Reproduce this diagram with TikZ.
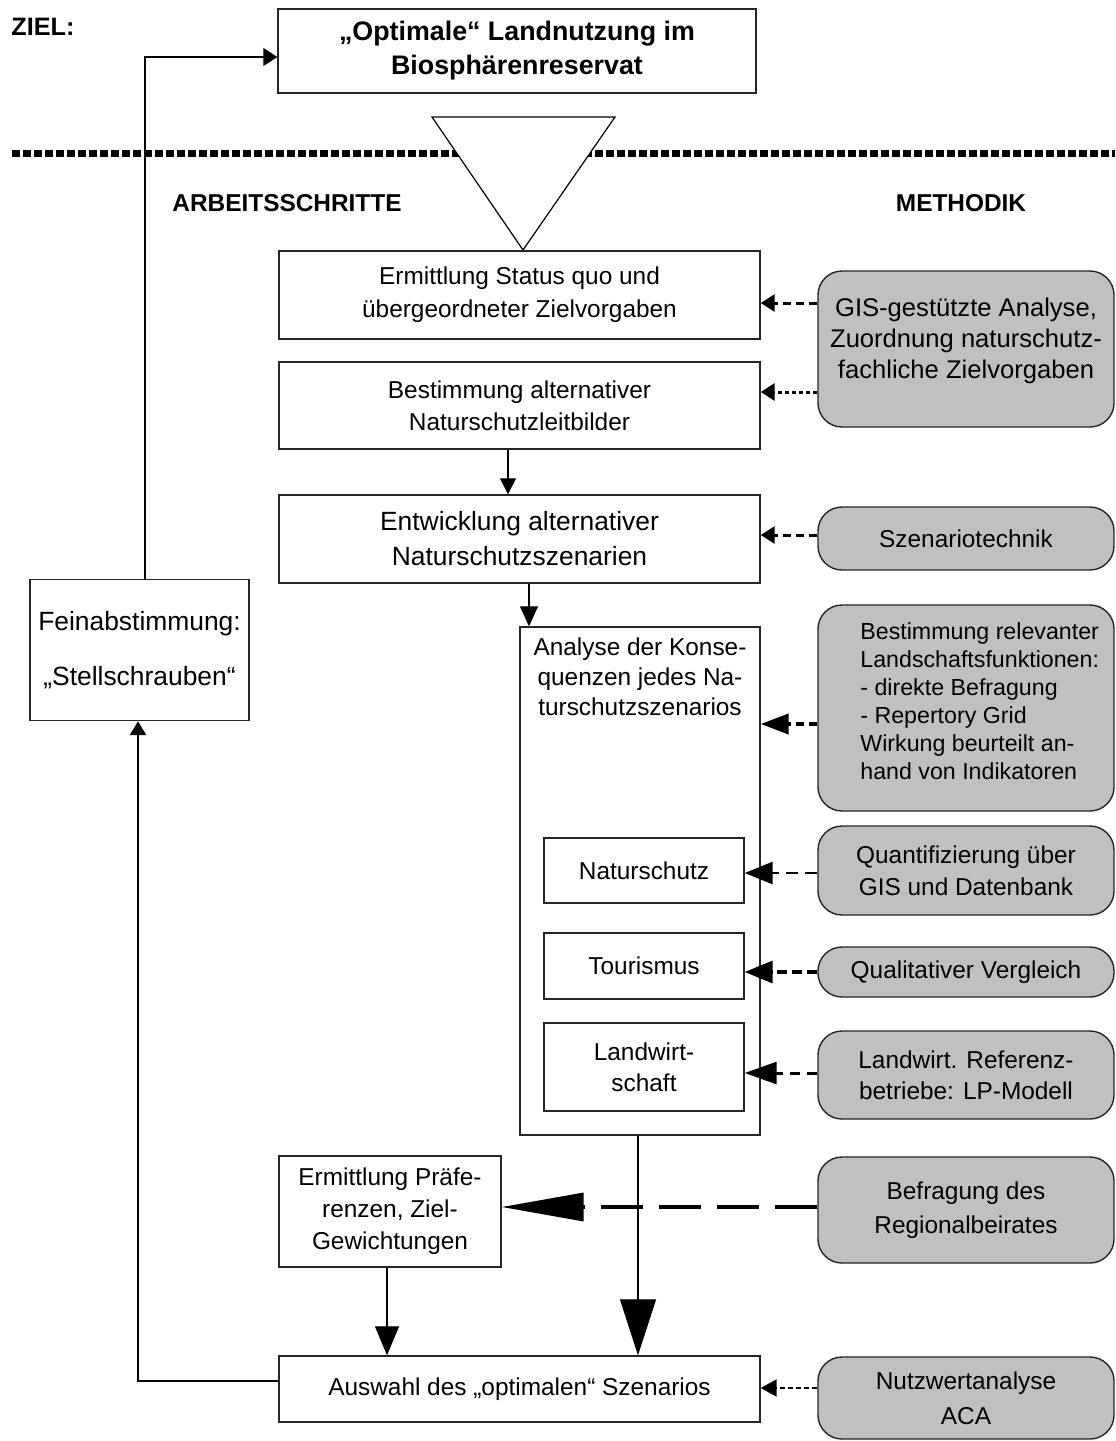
\documentclass[tikz,border=0pt]{standalone}
\usepackage{fontspec}
\setmainfont{Liberation Sans}
\usetikzlibrary{arrows.meta}
\definecolor{boxgray}{RGB}{192,192,192}

\begin{document}
\begin{tikzpicture}[x=0.5pt,y=-0.5pt,
  box/.style={draw=black!85,line width=0.7pt,inner sep=0pt,align=center,
    font=\fontsize{12.2}{16.5}\selectfont},
  graybox/.style={box,fill=boxgray,rounded corners=12pt,minimum width=148pt},
  head/.style={font=\bfseries\fontsize{12.2}{14}\selectfont,inner sep=0pt},
  flow/.style={line width=0.6pt,-{Triangle[length=8pt,width=8pt]}},
  hint/.style={line width=1.3pt,dash pattern=on 4pt off 2.5pt,
    -{Triangle[length=7pt,width=8.5pt]}},
  back/.style={line width=1.4pt,-{Triangle[length=7pt,width=8pt]}}]
  \useasboundingbox (0,0) rectangle (1115,1441);

  % Ziel
  \node[head,anchor=west,font=\bfseries\fontsize{12.6}{14}\selectfont] (ziel) at (11,27) {ZIEL:};
  \node[box,minimum width=239pt,minimum height=42pt,
    font=\bfseries\fontsize{13.4}{17}\selectfont] (goal) at (517,51)
    {„Optimale“ Landnutzung im\\Biosphärenreservat};

  \draw[line width=3.4pt,dash pattern=on 4pt off 1.5pt] (12,153.5) -- (1115,153.5);
  \draw[line width=0.6pt,fill=white] (432,117) -- (615,117) -- (523,250) -- cycle;

  \node[head] (arb) at (287,203) {ARBEITSSCHRITTE};
  \node[head] (meth) at (961,203) {METHODIK};

  % Arbeitsschritte
  \node[box,minimum width=240.5pt,minimum height=44pt] (status) at (519.5,295)
    {Ermittlung Status quo und\\übergeordneter Zielvorgaben};
  \node[box,minimum width=240.5pt,minimum height=43.5pt,
    font=\fontsize{12.2}{16}\selectfont] (lead) at (519.5,405.5)
    {Bestimmung alternativer\\Naturschutzleitbilder};
  \node[box,minimum width=240.5pt,minimum height=44pt,
    font=\fontsize{13.2}{17.5}\selectfont] (scen) at (519.5,539)
    {Entwicklung alternativer\\Naturschutzszenarien};
  \node[box,minimum width=120pt,minimum height=254pt] (ana) at (640,881) {};
  \node[align=center,inner sep=0pt,anchor=north,font=\fontsize{12.2}{15.2}\selectfont]
    (anatext) at (640,637) {Analyse der Konse-\\quenzen jedes Na-\\turschutzszenarios};
  \node[box,minimum width=100pt,minimum height=32.5pt] (nat) at (644,870.5) {Naturschutz};
  \node[box,minimum width=100pt,minimum height=33pt] (tour) at (644,966) {Tourismus};
  \node[box,minimum width=100pt,minimum height=44pt,
    font=\fontsize{12.2}{15.5}\selectfont] (land) at (644,1067) {Landwirt-\\schaft};
  \node[box,minimum width=111pt,minimum height=55.5pt,
    font=\fontsize{12.2}{16}\selectfont] (pref) at (390,1211.5)
    {Ermittlung Präfe-\\renzen, Ziel-\\Gewichtungen};
  \node[box,minimum width=240.5pt,minimum height=33pt] (pick) at (519.5,1389)
    {Auswahl des „optimalen“ Szenarios};
  \node[box,minimum width=109.5pt,minimum height=70.5pt,
    font=\fontsize{13.2}{27.5}\selectfont] (fine) at (139.5,650)
    {Feinabstimmung:\\„Stellschrauben“};

  % Methodik
  \node[graybox,minimum height=78pt] (gis) at (966,349) {};
  \node[align=center,inner sep=0pt,font=\fontsize{12.8}{15.5}\selectfont] (gistext) at (966,341)
    {GIS-gestützte Analyse,\\Zuordnung naturschutz-\\fachliche Zielvorgaben};
  \node[graybox,minimum height=31.5pt] (szen) at (966,538.5) {Szenariotechnik};
  \node[graybox,minimum height=103pt] (relev) at (966,708) {};
  \node[align=left,inner sep=0pt,anchor=west,font=\fontsize{11.6}{14}\selectfont]
    (relevtext) at (860,701) {Bestimmung relevanter\\Landschaftsfunktionen:\\- direkte Befragung\\- Repertory Grid\\Wirkung beurteilt an-\\hand von Indikatoren};
  \node[graybox,minimum height=44.5pt,font=\fontsize{12.2}{16}\selectfont] (quant) at (966,870.5)
    {Quantifizierung über\\GIS und Datenbank};
  \node[graybox,minimum height=25pt] (qual) at (966,972) {Qualitativer Vergleich};
  \node[graybox,minimum height=44pt,font=\fontsize{12.2}{15.5}\selectfont] (ref) at (966,1075)
    {Landwirt. Referenz-\\betriebe: LP-Modell};
  \node[graybox,minimum height=53pt,font=\fontsize{12.2}{17}\selectfont] (befr) at (966,1210)
    {Befragung des\\Regionalbeirates};
  \node[graybox,minimum height=41pt,font=\fontsize{12.2}{17.5}\selectfont] (nutz) at (966,1398)
    {Nutzwertanalyse\\ACA};

  % Ablauf
  \draw[flow] ([xshift=-5.75pt]lead.south) -- ([xshift=-5.75pt]scen.north);
  \draw[line width=0.6pt,-{Triangle[length=10pt,width=9pt]}]
    ([xshift=4.75pt]scen.south) -- ([xshift=4.75pt]scen.south |- ana.north);
  \draw[line width=0.6pt,-{Triangle[length=28pt,width=18pt]}]
    ([xshift=-1pt]ana.south) -- ([xshift=-1pt]ana.south |- pick.north);
  \draw[line width=0.6pt,-{Triangle[length=14.5pt,width=12pt]}]
    ([xshift=-1.5pt]pref.south) -- ([xshift=-1.5pt]pref.south |- pick.north);
  \draw[back] ([yshift=4pt]pick.west) -| ([xshift=-0.75pt]fine.south);
  \draw[line width=0.7pt,-{Triangle[length=7pt,width=9pt]}]
    ([xshift=2.75pt]fine.north) |- ([yshift=-3pt]goal.west);

  % Methodik -> Arbeitsschritte
  \draw[hint,line width=1.5pt] (gis.west |- 0,303) -- (status.east |- 0,303);
  \draw[hint,line width=1.5pt,dash pattern=on 2pt off 1.5pt] (gis.west |- 0,392) -- (lead.east |- 0,392);
  \draw[hint,line width=1.5pt] (szen.west |- 0,535) -- (scen.east |- 0,535);
  \draw[hint,line width=2pt,-{Triangle[length=14pt,width=10pt]}]
    (relev.west |- 0,724) -- (ana.east |- 0,724);
  \draw[hint,dash pattern=on 6pt off 3.5pt,-{Triangle[length=14pt,width=11pt]}]
    (quant.west |- 0,873) -- (nat.east |- 0,873);
  \draw[hint,line width=1.7pt,dash pattern=on 5pt off 2.5pt,-{Triangle[length=14pt,width=11pt]}]
    (qual.west |- 0,972) -- (tour.east |- 0,972);
  \draw[hint,line width=1.5pt,dash pattern=on 5pt off 3.5pt,-{Triangle[length=16pt,width=11pt]}]
    (ref.west |- 0,1073) -- (land.east |- 0,1073);
  \draw[hint,line width=1.7pt,dash pattern=on 21pt off 8pt,-{Triangle[length=41pt,width=14pt]}]
    (befr.west |- 0,1207) -- (pref.east |- 0,1207);
  \draw[hint,line width=1.2pt,dash pattern=on 2.5pt off 1.5pt,-{Triangle[length=8pt,width=8.5pt]}]
    (nutz.west |- 0,1388) -- (pick.east |- 0,1388);
\end{tikzpicture}
\end{document}
